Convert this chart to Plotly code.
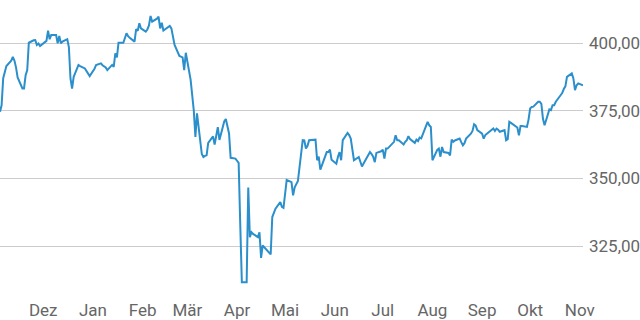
import plotly.graph_objects as go

dates = [
    "2024-11-04", "2024-11-05", "2024-11-06", "2024-11-07", "2024-11-08",
    "2024-11-11", "2024-11-12", "2024-11-13", "2024-11-14", "2024-11-15",
    "2024-11-18", "2024-11-19", "2024-11-20", "2024-11-21", "2024-11-22",
    "2024-11-25", "2024-11-26", "2024-11-27", "2024-11-28", "2024-11-29",
    "2024-12-02", "2024-12-03", "2024-12-04", "2024-12-05", "2024-12-06",
    "2024-12-09", "2024-12-10", "2024-12-11", "2024-12-12", "2024-12-13",
    "2024-12-16", "2024-12-17", "2024-12-18", "2024-12-19", "2024-12-20",
    "2024-12-23", "2024-12-24", "2024-12-27", "2024-12-30", "2024-12-31",
    "2025-01-02", "2025-01-03", "2025-01-06", "2025-01-07", "2025-01-08",
    "2025-01-09", "2025-01-10", "2025-01-13", "2025-01-14", "2025-01-15",
    "2025-01-16", "2025-01-17", "2025-01-20", "2025-01-21", "2025-01-22",
    "2025-01-23", "2025-01-24", "2025-01-27", "2025-01-28", "2025-01-29",
    "2025-01-30", "2025-01-31", "2025-02-03", "2025-02-04", "2025-02-05",
    "2025-02-06", "2025-02-07", "2025-02-10", "2025-02-11", "2025-02-12",
    "2025-02-13", "2025-02-14", "2025-02-17", "2025-02-18", "2025-02-19",
    "2025-02-20", "2025-02-21", "2025-02-24", "2025-02-25", "2025-02-26",
    "2025-02-27", "2025-02-28", "2025-03-03", "2025-03-04", "2025-03-05",
    "2025-03-06", "2025-03-07", "2025-03-10", "2025-03-11", "2025-03-12",
    "2025-03-13", "2025-03-14", "2025-03-17", "2025-03-18", "2025-03-19",
    "2025-03-20", "2025-03-21", "2025-03-24", "2025-03-25", "2025-03-26",
    "2025-03-27", "2025-03-28", "2025-03-31", "2025-04-01", "2025-04-02",
    "2025-04-03", "2025-04-04", "2025-04-07", "2025-04-08", "2025-04-09",
    "2025-04-10", "2025-04-11", "2025-04-14", "2025-04-15", "2025-04-16",
    "2025-04-17", "2025-04-22", "2025-04-23", "2025-04-24", "2025-04-25",
    "2025-04-28", "2025-04-29", "2025-04-30", "2025-05-02", "2025-05-05",
    "2025-05-06", "2025-05-07", "2025-05-08", "2025-05-09", "2025-05-12",
    "2025-05-13", "2025-05-14", "2025-05-15", "2025-05-16", "2025-05-19",
    "2025-05-20", "2025-05-21", "2025-05-22", "2025-05-23", "2025-05-26",
    "2025-05-27", "2025-05-28", "2025-05-29", "2025-05-30", "2025-06-02",
    "2025-06-03", "2025-06-04", "2025-06-05", "2025-06-06", "2025-06-09",
    "2025-06-10", "2025-06-11", "2025-06-12", "2025-06-13", "2025-06-16",
    "2025-06-17", "2025-06-18", "2025-06-19", "2025-06-20", "2025-06-23",
    "2025-06-24", "2025-06-25", "2025-06-26", "2025-06-27", "2025-06-30",
    "2025-07-01", "2025-07-02", "2025-07-03", "2025-07-04", "2025-07-07",
    "2025-07-08", "2025-07-09", "2025-07-10", "2025-07-11", "2025-07-14",
    "2025-07-15", "2025-07-16", "2025-07-17", "2025-07-18", "2025-07-21",
    "2025-07-22", "2025-07-23", "2025-07-24", "2025-07-25", "2025-07-28",
    "2025-07-29", "2025-07-30", "2025-07-31", "2025-08-01", "2025-08-04",
    "2025-08-05", "2025-08-06", "2025-08-07", "2025-08-08", "2025-08-11",
    "2025-08-12", "2025-08-13", "2025-08-14", "2025-08-15", "2025-08-18",
    "2025-08-19", "2025-08-20", "2025-08-21", "2025-08-22", "2025-08-25",
    "2025-08-26", "2025-08-27", "2025-08-28", "2025-08-29", "2025-09-01",
    "2025-09-02", "2025-09-03", "2025-09-04", "2025-09-05", "2025-09-08",
    "2025-09-09", "2025-09-10", "2025-09-11", "2025-09-12", "2025-09-15",
    "2025-09-16", "2025-09-17", "2025-09-18", "2025-09-19", "2025-09-22",
    "2025-09-23", "2025-09-24", "2025-09-25", "2025-09-26", "2025-09-29",
    "2025-09-30", "2025-10-01", "2025-10-02", "2025-10-03", "2025-10-06",
    "2025-10-07", "2025-10-08", "2025-10-09", "2025-10-10", "2025-10-13",
    "2025-10-14", "2025-10-15", "2025-10-16", "2025-10-17", "2025-10-20",
    "2025-10-21", "2025-10-22", "2025-10-23", "2025-10-24", "2025-10-27",
    "2025-10-28", "2025-10-29", "2025-10-30", "2025-10-31", "2025-11-03",
]

values = [
    374.6, 377.0, 387.0, 389.5, 391.5,
    393.5, 394.9, 393.5, 391.0, 387.3,
    383.2, 383.2, 388.1, 390.0, 400.1,
    401.0, 401.1, 399.3, 399.8, 398.9,
    400.3, 400.8, 404.6, 401.4, 403.0,
    403.0, 399.9, 402.6, 399.9, 400.5,
    401.4, 398.5, 386.9, 383.2, 387.5,
    391.9, 391.5, 390.6, 387.8, 388.6,
    390.5, 391.9, 392.5, 391.8, 391.4,
    391.0, 390.0, 391.9, 391.2, 396.2,
    394.7, 400.1, 400.1, 401.5, 403.6,
    402.5, 401.9, 400.5, 405.1, 404.5,
    407.3, 405.4, 404.2, 405.0, 406.5,
    410.0, 407.9, 409.0, 409.7, 405.4,
    407.5, 404.6, 405.8, 406.3, 405.4,
    402.3, 399.3, 395.2, 394.9, 394.7,
    390.0, 396.4, 386.5, 380.5, 375.0,
    365.3, 374.0, 359.0, 357.9, 358.3,
    358.5, 363.1, 365.5, 362.5, 366.0,
    368.9, 364.2, 371.0, 371.9, 368.5,
    366.6, 357.6, 357.3, 356.5, 355.7,
    333.0, 311.6, 311.6, 346.6, 328.3,
    330.1, 329.5, 328.3, 330.1, 320.6,
    325.2, 321.9, 335.7, 337.5, 338.8,
    341.2, 339.5, 339.1, 349.4, 348.6,
    343.7, 346.7, 347.8, 349.0, 364.1,
    364.0, 361.0, 362.0, 364.1, 364.2,
    364.3, 356.7, 358.0, 353.2, 358.5,
    359.7, 359.7, 360.6, 356.9, 355.4,
    358.0, 359.7, 356.7, 364.1, 366.8,
    366.0, 364.7, 360.0, 356.7, 357.9,
    356.5, 354.4, 355.5, 356.7, 359.7,
    359.0, 358.0, 356.0, 359.4, 360.0,
    360.6, 357.3, 361.0, 361.0, 362.9,
    363.5, 365.9, 364.1, 364.1, 362.5,
    363.5, 364.1, 365.6, 364.5, 363.1,
    364.3, 363.8, 365.1, 364.8, 369.2,
    370.9, 369.6, 369.0, 356.7, 360.5,
    361.0, 358.0, 361.6, 359.7, 359.4,
    358.5, 364.3, 363.5, 364.0, 364.7,
    363.4, 362.2, 363.0, 364.7, 366.5,
    367.5, 370.0, 369.5, 367.8, 366.5,
    364.7, 366.0, 366.5, 367.0, 368.4,
    367.5, 368.4, 368.0, 367.2, 367.8,
    364.1, 364.5, 370.9, 370.5, 369.2,
    368.8, 365.9, 369.3, 369.3, 369.0,
    371.7, 375.8, 376.4, 376.5, 378.3,
    378.3, 377.5, 372.0, 369.6, 375.5,
    375.2, 377.0, 377.0, 378.3, 380.7,
    381.5, 383.0, 384.0, 387.5, 388.8,
    386.9, 382.6, 384.4, 385.1, 384.4,
]

month_ticks = [
    "2024-12-01", "2025-01-01", "2025-02-01", "2025-03-01", "2025-04-01",
    "2025-05-01", "2025-06-01", "2025-07-01", "2025-08-01", "2025-09-01",
    "2025-10-01", "2025-11-01",
]
month_labels = ["Dez", "Jan", "Feb", "Mär", "Apr", "Mai", "Jun", "Jul",
                "Aug", "Sep", "Okt", "Nov"]

y_ticks = [325, 350, 375, 400]
y_labels = ["325,00", "350,00", "375,00", "400,00"]

FONT = "Liberation Sans Narrow, Roboto, Arial, sans-serif"

fig = go.Figure(
    go.Scatter(
        x=dates,
        y=values,
        mode="lines",
        line=dict(color="#2b8fcb", width=2),
        hoverinfo="skip",
    )
)

fig.update_layout(
    width=640,
    height=320,
    margin=dict(l=0, r=54, t=0, b=30),
    paper_bgcolor="white",
    plot_bgcolor="white",
    showlegend=False,
    font=dict(family=FONT, size=17, color="#666666"),
)

fig.update_xaxes(
    range=["2024-11-04", "2025-11-03"],
    tickvals=month_ticks,
    ticktext=month_labels,
    showgrid=False,
    zeroline=False,
    showline=False,
    ticks="",
    ticklabelstandoff=8,
    tickfont=dict(family=FONT, size=17, color="#666666"),
)

fig.update_yaxes(
    side="right",
    range=[308.76, 415.89],
    tickvals=y_ticks,
    ticktext=y_labels,
    showgrid=True,
    gridcolor="#cccccc",
    gridwidth=1,
    zeroline=False,
    showline=False,
    ticks="",
    ticklabelstandoff=5,
    tickfont=dict(family=FONT, size=17, color="#666666"),
)

fig.write_html("out.html")
